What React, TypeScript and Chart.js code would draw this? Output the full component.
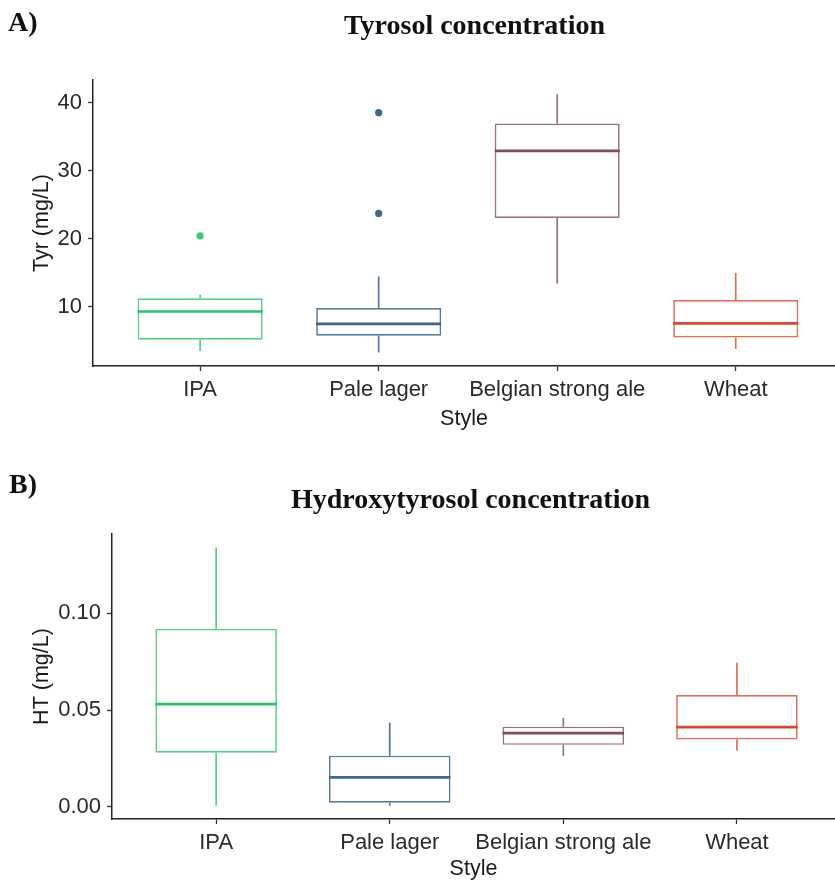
import React, { useEffect, useRef } from "react";
import { Chart, registerables } from "chart.js";

Chart.register(...registerables);

// ---------- data ----------
const styles = ["IPA", "Pale lager", "Belgian strong ale", "Wheat"];

// Tyrosol (mg/L)
const tyrMin = [3.5, 3.3, 13.4, 3.8];
const tyrQ1 = [5.15, 5.75, 23.05, 5.5];
const tyrMedian = [9.3, 7.5, 32.9, 7.55];
const tyrQ3 = [11.25, 9.8, 36.9, 11.0];
const tyrMax = [11.75, 14.45, 41.2, 14.95];
const tyrOutlierStyle = [0, 1, 1];
const tyrOutlierValue = [20.4, 38.5, 23.7];
const tyrTicks = [10, 20, 30, 40];

// Hydroxytyrosol (mg/L)
const htMin = [0.0005, 0.0005, 0.0262, 0.029];
const htQ1 = [0.0279, 0.0021, 0.032, 0.0348];
const htMedian = [0.0531, 0.0152, 0.0381, 0.0412];
const htQ3 = [0.092, 0.0264, 0.0414, 0.0578];
const htMax = [0.134, 0.0436, 0.046, 0.0745];
const htOutlierStyle: number[] = [];
const htOutlierValue: number[] = [];
const htTicks = [0.0, 0.05, 0.1];

// ---------- colours ----------
const boxColors = ["#50d185", "#557995", "#987080", "#e26c57"];
const medianColors = ["#2cbf68", "#3f6685", "#7d4c5f", "#d24a32"];
const outlierColors = ["#3ec874", "#41678a", "#7d4c5f", "#d24a32"];

const tickFont = { family: "'Liberation Sans', Arial, sans-serif", size: 22 };
const titleFont = { family: "'Liberation Sans', Arial, sans-serif", size: 21.5, lineHeight: 1 };

type PanelSpec = {
  mins: number[];
  q1: number[];
  med: number[];
  q3: number[];
  maxs: number[];
  outStyle: number[];
  outValue: number[];
  ticks: number[];
  yMin: number;
  yMax: number;
  xMax: number;
  yTitle: string;
  fmt: (v: number) => string;
  padTop: number;
  yWidth: number;
  xHeight: number;
  xTitlePadBottom: number;
};

function boxPartsPlugin(p: PanelSpec) {
  return {
    id: "boxParts",
    beforeDatasetsDraw(chart: any) {
      const { ctx, scales } = chart;
      const x = scales.x;
      const y = scales.y;
      ctx.save();
      ctx.lineWidth = 1.7;
      styles.forEach((_, i) => {
        const px = x.getPixelForValue(i);
        ctx.strokeStyle = boxColors[i];
        ctx.beginPath();
        ctx.moveTo(px, y.getPixelForValue(p.q3[i]));
        ctx.lineTo(px, y.getPixelForValue(p.maxs[i]));
        ctx.moveTo(px, y.getPixelForValue(p.q1[i]));
        ctx.lineTo(px, y.getPixelForValue(p.mins[i]));
        ctx.stroke();
      });
      ctx.restore();
    },
    afterDatasetsDraw(chart: any) {
      const { ctx, scales } = chart;
      const x = scales.x;
      const y = scales.y;
      const meta = chart.getDatasetMeta(0);
      ctx.save();
      ctx.lineWidth = 2.7;
      styles.forEach((_, i) => {
        const bar = meta.data[i];
        const half = bar.width / 2;
        const px = x.getPixelForValue(i);
        const py = y.getPixelForValue(p.med[i]);
        ctx.strokeStyle = medianColors[i];
        ctx.beginPath();
        ctx.moveTo(px - half, py);
        ctx.lineTo(px + half, py);
        ctx.stroke();
      });
      ctx.restore();
    },
  };
}

function makeConfig(p: PanelSpec): any {
  return {
    type: "bar",
    data: {
      datasets: [
        {
          type: "bar",
          data: styles.map((_, i) => ({ x: i, y: [p.q1[i], p.q3[i]] })),
          backgroundColor: "#ffffff",
          borderColor: boxColors,
          borderWidth: 1.7,
          borderSkipped: false,
          categoryPercentage: 1,
          barPercentage: 0.7,
        },
        {
          type: "scatter",
          data: p.outStyle.map((s, i) => ({ x: s, y: p.outValue[i] })),
          pointBackgroundColor: p.outStyle.map((s) => outlierColors[s]),
          pointBorderWidth: 0,
          pointRadius: 3.6,
          showLine: false,
        },
      ],
    },
    options: {
      animation: false,
      responsive: false,
      devicePixelRatio: 1,
      layout: { autoPadding: false, padding: { top: p.padTop, left: 0, right: 0, bottom: 0 } },
      plugins: {
        legend: { display: false },
        tooltip: { enabled: false },
        title: { display: false },
      },
      scales: {
        x: {
          type: "linear",
          offset: false,
          min: -0.6,
          max: p.xMax,
          afterBuildTicks: (s: any) => {
            s.ticks = styles.map((_, i) => ({ value: i }));
          },
          afterFit: (s: any) => {
            s.height = p.xHeight;
            s.paddingLeft = 0;
            s.paddingRight = 0;
          },
          ticks: {
            callback: (v: number) => styles[v] ?? "",
            font: tickFont,
            color: "#2a2a2a",
            padding: 6,
            autoSkip: false,
            maxRotation: 0,
            minRotation: 0,
          },
          grid: {
            display: true,
            offset: false,
            drawOnChartArea: false,
            drawTicks: true,
            tickLength: 5,
            tickColor: "#333333",
            tickWidth: 1.3,
          },
          border: { display: true, color: "#222222", width: 1.5 },
          title: {
            display: true,
            text: "Style",
            font: titleFont,
            color: "#1a1a1a",
            padding: { top: 0, bottom: p.xTitlePadBottom },
          },
        },
        y: {
          type: "linear",
          min: p.yMin,
          max: p.yMax,
          afterBuildTicks: (s: any) => {
            s.ticks = p.ticks.map((v) => ({ value: v }));
          },
          afterFit: (s: any) => {
            s.width = p.yWidth;
            s.paddingTop = 0;
            s.paddingBottom = 0;
          },
          ticks: {
            callback: (v: number) => p.fmt(v),
            font: tickFont,
            color: "#2a2a2a",
            padding: 6,
          },
          grid: {
            display: true,
            drawOnChartArea: false,
            drawTicks: true,
            tickLength: 5,
            tickColor: "#333333",
            tickWidth: 1.3,
          },
          border: { display: true, color: "#222222", width: 1.5 },
          title: {
            display: true,
            text: p.yTitle,
            font: titleFont,
            color: "#1a1a1a",
            padding: { top: 31, bottom: 0 },
          },
        },
      },
    },
    plugins: [boxPartsPlugin(p)],
  };
}

const panelA: PanelSpec = {
  mins: tyrMin,
  q1: tyrQ1,
  med: tyrMedian,
  q3: tyrQ3,
  maxs: tyrMax,
  outStyle: tyrOutlierStyle,
  outValue: tyrOutlierValue,
  ticks: tyrTicks,
  yMin: 1.3,
  yMax: 43.3,
  xMax: 3.556,
  yTitle: "Tyr (mg/L)",
  fmt: (v) => String(Math.round(v)),
  padTop: 80,
  yWidth: 93,
  xHeight: 74,
  xTitlePadBottom: 10.5,
};

const panelB: PanelSpec = {
  mins: htMin,
  q1: htQ1,
  med: htMedian,
  q3: htQ3,
  maxs: htMax,
  outStyle: htOutlierStyle,
  outValue: htOutlierValue,
  ticks: htTicks,
  yMin: -0.00636,
  yMax: 0.14104,
  xMax: 3.565,
  yTitle: "HT (mg/L)",
  fmt: (v) => v.toFixed(2),
  padTop: 94,
  yWidth: 112,
  xHeight: 61,
  xTitlePadBottom: 0,
};

function Panel({ spec, top }: { spec: PanelSpec; top: number }) {
  const ref = useRef<HTMLCanvasElement | null>(null);
  useEffect(() => {
    if (!ref.current) return;
    const chart = new Chart(ref.current, makeConfig(spec));
    return () => chart.destroy();
  }, [spec]);
  return (
    <canvas
      ref={ref}
      width={835}
      height={440}
      style={{ position: "absolute", left: 0, top, width: 835, height: 440 }}
    />
  );
}

const serif = "'Liberation Serif', 'Times New Roman', serif";

function Label({
  text,
  left,
  baseline,
  center,
}: {
  text: string;
  left: number;
  baseline: number;
  center?: boolean;
}) {
  return (
    <div
      style={{
        position: "absolute",
        left,
        top: baseline - 23.5,
        fontFamily: serif,
        fontWeight: "bold",
        fontSize: 28,
        lineHeight: "28px",
        color: "#111111",
        whiteSpace: "nowrap",
        transform: center ? "translateX(-50%)" : undefined,
      }}
    >
      {text}
    </div>
  );
}

export default function App() {
  return (
    <div
      style={{
        position: "absolute",
        left: 0,
        top: 0,
        width: 835,
        height: 880,
        background: "#ffffff",
        overflow: "hidden",
      }}
    >
      <Panel spec={panelA} top={0} />
      <Panel spec={panelB} top={440} />
      <Label text="A)" left={8} baseline={31} />
      <Label text="Tyrosol concentration" left={474.5} baseline={34} center />
      <Label text="B)" left={9} baseline={493} />
      <Label text="Hydroxytyrosol concentration" left={470.5} baseline={508} center />
    </div>
  );
}
